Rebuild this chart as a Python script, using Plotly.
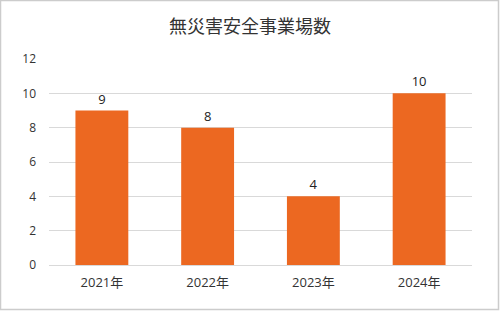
import plotly.graph_objects as go

categories = ["2021年", "2022年", "2023年", "2024年"]
values = [9, 8, 4, 10]
y_ticks = [0, 2, 4, 6, 8, 10, 12]

W, H = 500, 311
ml, mr, mt, mb = 49, 28, 59, 46
pw, ph = W - ml - mr, H - mt - mb

fig = go.Figure(go.Bar(
    x=categories, y=values,
    marker=dict(color="#EC6821", line=dict(width=0)),
    text=[str(v) for v in values], textposition="outside",
    textfont=dict(family="Open Sans, Noto Sans CJK JP", size=13, color="#222"),
    cliponaxis=False,
))

def px_x(p):
    return (p - ml) / pw

def px_y(p):
    return 1 - (p - mt) / ph

fig.add_shape(type="rect", xref="paper", yref="paper",
              x0=px_x(0.5), x1=px_x(W - 1.5), y0=px_y(H - 1.5), y1=px_y(0.5),
              line=dict(color="#cccccc", width=1.5), layer="below")

fig.update_layout(
    width=W, height=H,
    margin=dict(l=ml, r=mr, t=mt, b=mb),
    paper_bgcolor="white", plot_bgcolor="white",
    bargap=0.5,
    showlegend=False,
    title=dict(text="無災害安全事業場数", x=0.5, xref="container", xanchor="center",
               y=1 - 27 / H, yanchor="middle",
               font=dict(family="Noto Sans CJK JP", size=18, color="#333")),
    font=dict(family="Open Sans, Noto Sans CJK JP", size=13, color="#333"),
    xaxis=dict(showgrid=False, showline=False, ticks="", ticklabelstandoff=8,
               tickfont=dict(family="Open Sans, Noto Sans CJK JP", size=13, color="#333")),
    yaxis=dict(range=[0, 12], tickvals=y_ticks, showgrid=True, gridcolor="#d9d9d9", gridwidth=1,
               zeroline=True, zerolinecolor="#d9d9d9", zerolinewidth=1,
               ticks="", ticklabelstandoff=12,
               tickfont=dict(family="Open Sans", size=12, color="#333")),
)

fig.write_html("out.html")
